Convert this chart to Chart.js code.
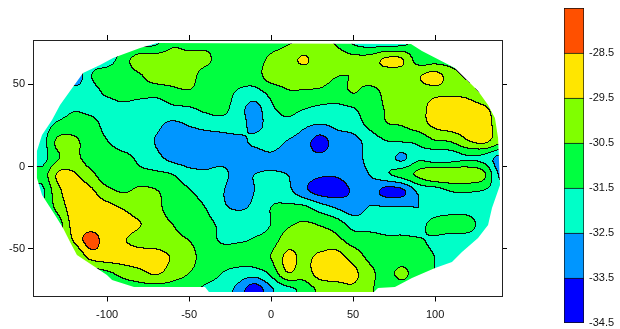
<!DOCTYPE html>
<html>
<head>
<meta charset="utf-8">
<script src="https://cdn.jsdelivr.net/npm/chart.js@4.4.1/dist/chart.umd.min.js"></script>
<style>
  body { margin: 0; background: #fff; }
  #main { position: absolute; left: 0; top: 0; }
  #bar { position: absolute; left: 540px; top: 0; }
</style>
</head>
<body>
<canvas id="main" width="540" height="329"></canvas>
<canvas id="bar" width="80" height="329"></canvas>
<script>
// grid nodes (data units)
const xGrid = [-140, -130, -120, -110, -100, -90, -80, -70, -60, -50, -40, -30, -20, -10, 0,
               10, 20, 30, 40, 50, 60, 70, 80, 90, 100, 110, 120, 130, 140];
const yGrid = [75, 65, 55, 45, 35, 25, 15, 5, -5, -15, -25, -35, -45, -55, -65, -75];

// values, one row per yGrid entry
const zRows = [
  [-32, -32, -32, -32, -32, -32, -32, -31.7, -30.7, -31, -30.9, -31, -31, -31, -30.9, -30.6, -30.3, -30.3, -30.6, -31.6, -32, -32, -31.9, -31, -31, -31, -31, -31, -31],
  [-32, -32, -32, -32, -32, -31, -30, -30, -30, -30, -30.2, -31, -31, -31, -30.3, -29.9, -29.4, -29.9, -30, -30.2, -30.1, -29.4, -29.45, -31, -31, -31, -31, -31, -31],
  [-32, -32, -33.3, -31.6, -31, -31, -30.6, -30, -30, -30, -31, -31, -31, -31, -30, -30, -30, -30, -30.45, -30.45, -30, -30, -30, -29.6, -29.2, -30, -30.7, -31, -31],
  [-32, -32, -32, -31.9, -31.3, -31, -31, -31.1, -30.8, -30.6, -31, -31, -31.6, -31.8, -31.2, -30.6, -30.6, -30.7, -31, -30.45, -30.8, -30.3, -30, -29.9, -29.7, -29.7, -29.9, -30.7, -31],
  [-32, -32, -31.6, -31.8, -32, -31.8, -32.1, -32.1, -31.7, -31.6, -31.3, -31.2, -32, -32.9, -31.7, -31.2, -31.45, -31.7, -31.7, -31.55, -31, -30.45, -30, -30, -29, -29, -29, -29.3, -30.2],
  [-32, -31.3, -31, -31.1, -31.8, -32, -32, -32.3, -32.7, -32.45, -32.2, -32, -32, -32.8, -32.1, -31.8, -32.3, -32.55, -32.3, -32, -31.3, -30.6, -30.45, -30, -29.3, -29, -29, -29, -30],
  [-32, -30.3, -30.3, -31, -31.45, -32, -32, -32.55, -33, -33, -33, -33, -32.8, -32.3, -32, -32.55, -33, -33.9, -33, -32.9, -32.1, -31.55, -31.45, -31.3, -30.6, -30.45, -29.6, -29.3, -30.2],
  [-32, -30.6, -30.2, -31, -31, -31.2, -31.7, -32.2, -32.8, -33, -33, -32.9, -32.7, -33, -32.7, -33.1, -33.2, -33.3, -33.1, -33, -32.2, -32, -32.7, -31.7, -32, -31.9, -31.6, -31.8, -32.9],
  [-31.2, -29.4, -29.4, -30.2, -31.1, -31, -31.2, -31.3, -31.5, -32.1, -32.3, -32.2, -32.9, -32.5, -32.4, -32.5, -33.1, -33.4, -33.4, -33, -32.5, -31.7, -31.1, -30.3, -29.7, -29.7, -29.7, -30.3, -32.7],
  [-31.8, -29.8, -29, -29.3, -30.2, -30.6, -30.3, -30.45, -31, -31.4, -32, -32.4, -33, -32.5, -32, -32.2, -33.2, -33.9, -33.9, -33.4, -33, -33.8, -33.7, -32.3, -32, -31.45, -31.4, -31.55, -32],
  [-31.5, -30.2, -29, -29, -29.2, -29.6, -30.1, -30.2, -31, -31, -31.5, -32.3, -32.6, -32.3, -31.5, -31.3, -31.3, -32, -32.6, -33, -32.45, -32.45, -32.45, -32.5, -32.4, -32, -32, -32, -32],
  [-31.5, -31, -29.1, -29, -29, -29, -29.45, -30, -30.5, -31, -31.2, -31.7, -32, -32, -31.5, -30.7, -30.4, -30.6, -31, -31.9, -32, -32, -32, -32, -31, -30.9, -31, -32, -32],
  [-31, -31, -29.4, -28.1, -29, -29.4, -29.9, -30, -30.2, -30.5, -31, -31.6, -31.6, -31.4, -31, -30, -30, -30.1, -30.2, -30.9, -31, -31.3, -31.3, -31.4, -31.7, -32, -32, -32, -32],
  [-31, -31, -30.7, -29.2, -29, -29, -29, -29.1, -29.6, -30.2, -30.8, -31, -31, -31, -30.5, -29.3, -29.7, -29.3, -29.1, -29.9, -30.7, -31, -31, -31, -31.5, -31.9, -32, -32, -32],
  [-31, -31, -31, -31, -30.7, -30.2, -29.8, -29.4, -30, -30.5, -31, -31.5, -31.9, -32, -31.3, -29.6, -30, -29.1, -29, -29.2, -30.2, -30.8, -30.3, -31, -31.5, -32, -32, -32, -32],
  [-31, -31, -31, -31, -31, -31, -31, -31, -31, -31.2, -31.7, -32, -32.8, -34.2, -32.7, -31.9, -31.2, -30.3, -30, -29.7, -30.3, -31, -31, -31, -31, -31, -31, -31, -31]
];

// outline of the sampled area
const hullX = [-69.6, 85.3, 92.0, 112.1, 126.2, 132.3, 136.5, 138.4, 139.6, 134.7, 132.3, 126.2, 116.4, 110.3, 100.0, 85.9, 75.5, 65.2, 62.7,
               -37.9, -40.3, -83.6, -97.0, -100.1, -109.2, -118.4, -122.6, -126.9, -131.8, -139.7, -142.8, -142.8, -139.7, -133.6, -128.7, -122.6, -114.7, -104.3, -96.4, -79.9];
const hullY = [74.9, 74.3, 70.0, 59.7, 45.8, 37.3, 29.4, 17.3, -11.2, -25.2, -35.5, -43.3, -51.8, -57.9, -61.5, -67.6, -73.0, -73.6, -76.1,
               -76.1, -73.0, -73.0, -68.8, -65.8, -59.7, -53.6, -45.7, -37.3, -29.4, -17.3, -7.0, 9.4, 19.1, 28.2, 37.3, 45.8, 56.7, 61.5, 65.8, 71.9];

const levels = [-34.5, -33.5, -32.5, -31.5, -30.5, -29.5, -28.5, -27.5];
const bandColors = ['#0000ff', '#0096ff', '#00ffc8', '#00ff40', '#80ff00', '#ffe600', '#ff5000'];
const xTicks = [-100, -50, 0, 50, 100];
const yTicks = [-50, 0, 50];
const barTicks = [-34.5, -33.5, -32.5, -31.5, -30.5, -29.5, -28.5, -27.5];

Chart.defaults.font.family = 'Arial, "Liberation Sans", sans-serif';
Chart.defaults.font.size = 11;
Chart.defaults.color = '#111';

function cr(p0, p1, p2, p3, t) {
  return p1 + 0.5 * t * (p2 - p0 + t * (2 * p0 - 5 * p1 + 4 * p2 - p3 + t * (3 * (p1 - p2) + p3 - p0)));
}

function sample(xv, yv) {
  const nx = xGrid.length, ny = yGrid.length;
  let fx = (xv - xGrid[0]) / (xGrid[1] - xGrid[0]);
  let fy = (yv - yGrid[0]) / (yGrid[1] - yGrid[0]);
  fx = Math.max(0, Math.min(nx - 1.0001, fx));
  fy = Math.max(0, Math.min(ny - 1.0001, fy));
  const i = Math.floor(fx), j = Math.floor(fy);
  const tx = fx - i, ty = fy - j;
  const col = k => Math.max(0, Math.min(nx - 1, k));
  const row = k => zRows[Math.max(0, Math.min(ny - 1, k))];
  const r = [];
  for (let k = -1; k <= 2; k++) {
    const z = row(j + k);
    r.push(cr(z[col(i - 1)], z[col(i)], z[col(i + 1)], z[col(i + 2)], tx));
  }
  let v = cr(r[0], r[1], r[2], r[3], ty);
  const c = [zRows[j][i], zRows[j][i + 1], zRows[j + 1][i], zRows[j + 1][i + 1]];
  return Math.max(Math.min(...c), Math.min(Math.max(...c), v));
}

function hexRgb(h) {
  return [parseInt(h.slice(1, 3), 16), parseInt(h.slice(3, 5), 16), parseInt(h.slice(5, 7), 16)];
}

const contourFill = {
  id: 'contourFill',
  beforeDatasetsDraw(chart) {
    const {ctx, chartArea: a, scales: {x, y}} = chart;
    const left = Math.round(a.left), top = Math.round(a.top);
    const w = Math.round(a.right) - left, h = Math.round(a.bottom) - top;
    const band = new Int8Array(w * h);
    for (let j = 0; j < h; j++) {
      const yv = y.getValueForPixel(top + j + 0.5);
      for (let i = 0; i < w; i++) {
        const v = sample(x.getValueForPixel(left + i + 0.5), yv);
        let b = 0;
        while (b < levels.length - 2 && v >= levels[b + 1]) b++;
        band[j * w + i] = b;
      }
    }
    const rgb = bandColors.map(hexRgb);
    const off = document.createElement('canvas');
    off.width = w; off.height = h;
    const octx = off.getContext('2d');
    const img = octx.createImageData(w, h);
    for (let j = 0; j < h; j++) {
      for (let i = 0; i < w; i++) {
        const k = j * w + i, b = band[k];
        const edge = (i < w - 1 && band[k + 1] !== b) || (j < h - 1 && band[k + w] !== b);
        const c = edge ? [10, 10, 10] : rgb[b];
        img.data[k * 4] = c[0]; img.data[k * 4 + 1] = c[1]; img.data[k * 4 + 2] = c[2]; img.data[k * 4 + 3] = 255;
      }
    }
    octx.putImageData(img, 0, 0);
    ctx.save();
    ctx.beginPath();
    hullX.forEach((hx, n) => {
      const px = x.getPixelForValue(hx), py = y.getPixelForValue(hullY[n]);
      if (n === 0) ctx.moveTo(px, py); else ctx.lineTo(px, py);
    });
    ctx.closePath();
    ctx.clip();
    ctx.drawImage(off, left, top);
    ctx.restore();
  }
};

const frame = {
  grid: {drawOnChartArea: false, color: '#000', tickLength: 5},
  border: {display: true, color: '#222', width: 1}
};

new Chart(document.getElementById('main'), {
  type: 'scatter',
  data: {datasets: [{data: []}]},
  options: {
    responsive: false,
    animation: false,
    layout: {padding: {left: 0, right: 33, top: 35, bottom: 0}},
    plugins: {legend: {display: false}, tooltip: {enabled: false}},
    scales: {
      x: {
        type: 'linear', position: 'bottom', min: -145.2, max: 140.8, ...frame,
        ticks: {padding: 7, maxRotation: 0},
        afterBuildTicks: s => { s.ticks = xTicks.map(v => ({value: v})); },
        afterFit: s => { s.height = 32.5; }
      },
      x2: {
        type: 'linear', axis: 'x', position: 'top', min: -145.2, max: 140.8, ...frame,
        ticks: {display: false},
        afterBuildTicks: s => { s.ticks = xTicks.map(v => ({value: v})); },
        afterFit: s => { s.height = 5; }
      },
      y: {
        type: 'linear', position: 'left', min: -78.8, max: 76.7, ...frame,
        ticks: {padding: 3},
        afterBuildTicks: s => { s.ticks = yTicks.map(v => ({value: v})); },
        afterFit: s => { s.width = 33; }
      },
      y2: {
        type: 'linear', axis: 'y', position: 'right', min: -78.8, max: 76.7, ...frame,
        ticks: {display: false},
        afterBuildTicks: s => { s.ticks = yTicks.map(v => ({value: v})); },
        afterFit: s => { s.width = 5; }
      }
    }
  },
  plugins: [contourFill]
});

// colour bar
new Chart(document.getElementById('bar'), {
  type: 'bar',
  data: {
    labels: [''],
    datasets: bandColors.map((c, k) => ({
      data: [[levels[k], levels[k + 1]]],
      backgroundColor: c,
      borderColor: '#111',
      borderWidth: {top: 1, left: 1, right: 1, bottom: k === 0 ? 1 : 0},
      borderSkipped: false,
      grouped: false,
      barPercentage: 1,
      categoryPercentage: 1
    }))
  },
  options: {
    responsive: false,
    animation: false,
    layout: {padding: {left: 24, right: 0, top: 8, bottom: 6}},
    plugins: {legend: {display: false}, tooltip: {enabled: false}},
    scales: {
      x: {display: false},
      y: {
        position: 'right', min: -34.5, max: -27.5,
        grid: {display: false, drawTicks: false}, border: {display: false},
        ticks: {padding: 5, callback: v => (v === -27.5 ? '' : v.toFixed(1))},
        afterBuildTicks: s => { s.ticks = barTicks.map(v => ({value: v})); },
        afterFit: s => { s.width = 36; s.paddingTop = 0; s.paddingBottom = 0; }
      }
    }
  }
});
</script>
</body>
</html>
